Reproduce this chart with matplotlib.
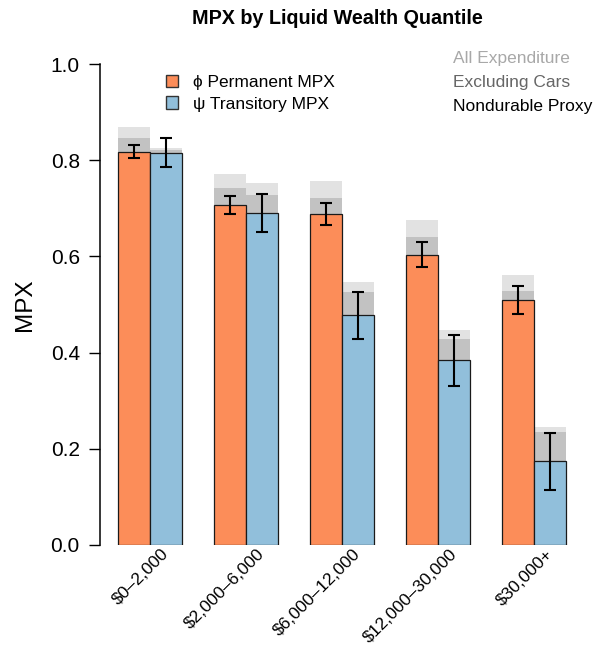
import numpy as np
import matplotlib
matplotlib.use("Agg")
import matplotlib.pyplot as plt
import matplotlib.patches as mpatches
import matplotlib.transforms as mtransforms

plt.rcParams['font.family'] = ['Liberation Sans', 'DejaVu Sans']

# Data
groups = ["$0\u20132,000", "$2,000\u20136,000", "$6,000\u201312,000",
          "$12,000\u201330,000", "$30,000+"]

perm_nondur = [0.818, 0.706, 0.689, 0.603, 0.510]
perm_excars = [0.847, 0.742, 0.721, 0.640, 0.529]
perm_allexp = [0.870, 0.771, 0.757, 0.676, 0.561]
perm_lo = [0.805, 0.689, 0.665, 0.577, 0.481]
perm_hi = [0.831, 0.725, 0.712, 0.629, 0.538]

tran_nondur = [0.816, 0.690, 0.478, 0.384, 0.174]
tran_excars = [0.821, 0.728, 0.526, 0.428, 0.234]
tran_allexp = [0.825, 0.753, 0.547, 0.447, 0.246]
tran_lo = [0.786, 0.651, 0.428, 0.331, 0.114]
tran_hi = [0.846, 0.730, 0.527, 0.437, 0.233]

c_perm = "#fc8d59"
c_tran = "#91bfdb"
c_all = "#e2e2e2"
c_exc = "#c2c2c2"

fig = plt.figure(figsize=(5.95, 6.46), dpi=100)
ax = fig.add_axes([100/595, 101/646, 490/595, 481/646])

x = np.arange(len(groups))
w = 1/3

for off, nd, ex, al, lo, hi, col in [(-w/2, perm_nondur, perm_excars, perm_allexp, perm_lo, perm_hi, c_perm),
                                      (w/2, tran_nondur, tran_excars, tran_allexp, tran_lo, tran_hi, c_tran)]:
    xs = x + off
    ax.bar(xs, al, width=w, color=c_all, lw=0, zorder=1)
    ax.bar(xs, ex, width=w, color=c_exc, lw=0, zorder=2)
    ax.bar(xs, nd, width=w, color=col, edgecolor="#1a1a1a", lw=0.9, zorder=3)
    nd = np.array(nd)
    yerr = [nd - np.array(lo), np.array(hi) - nd]
    ax.errorbar(xs, nd, yerr=yerr, fmt="none", ecolor="black", elinewidth=1.5,
                capsize=4.5, capthick=1.5, zorder=4)

ax.set_xlim(-0.521, 4.583)
ax.set_ylim(0, 1)
ax.set_yticks([0, 0.2, 0.4, 0.6, 0.8, 1.0])
ax.set_yticklabels(["0.0", "0.2", "0.4", "0.6", "0.8", "1.0"], fontsize=15)
ax.tick_params(axis="y", length=8, width=1, pad=6.5)
ax.set_xticks(x)
ax.set_xticklabels(groups, rotation=45, ha="right", va="top", rotation_mode="anchor", fontsize=12.5)
ax.tick_params(axis="x", length=0, pad=1)
offset = mtransforms.ScaledTranslation(0.11, 0, fig.dpi_scale_trans)
for lab in ax.get_xticklabels():
    lab.set_transform(lab.get_transform() + offset)
for s in ["top", "right", "bottom"]:
    ax.spines[s].set_visible(False)
ax.spines["left"].set_linewidth(1.1)
ax.set_ylabel("MPX", fontsize=17.5)
ax.yaxis.set_label_coords(-0.131, 0.5)

fig.text(337/595, 1 - 18/646, "MPX by Liquid Wealth Quantile", ha="center", va="center",
         fontsize=14.2, fontweight="bold")

# legend
handles = [mpatches.Patch(facecolor=c_perm, edgecolor="#333333", label="\u03d5 Permanent MPX"),
           mpatches.Patch(facecolor=c_tran, edgecolor="#333333", label="\u03c8 Transitory MPX")]
ax.legend(handles=handles, loc="upper left", bbox_to_anchor=(166/595, 1 - 75/646),
          bbox_transform=fig.transFigure, frameon=False, borderpad=0, borderaxespad=0,
          fontsize=12.5, handlelength=0.7, handleheight=0.7, labelspacing=0.36,
          handletextpad=0.86)

fig.text(453/595, 1 - 58/646, "All Expenditure", color="#a8a8a8", fontsize=12.5, va="center")
fig.text(453/595, 1 - 82/646, "Excluding Cars", color="#666666", fontsize=12.5, va="center")
fig.text(453/595, 1 - 106/646, "Nondurable Proxy", color="black", fontsize=12.5, va="center")

fig.savefig("out.png", dpi=100)
